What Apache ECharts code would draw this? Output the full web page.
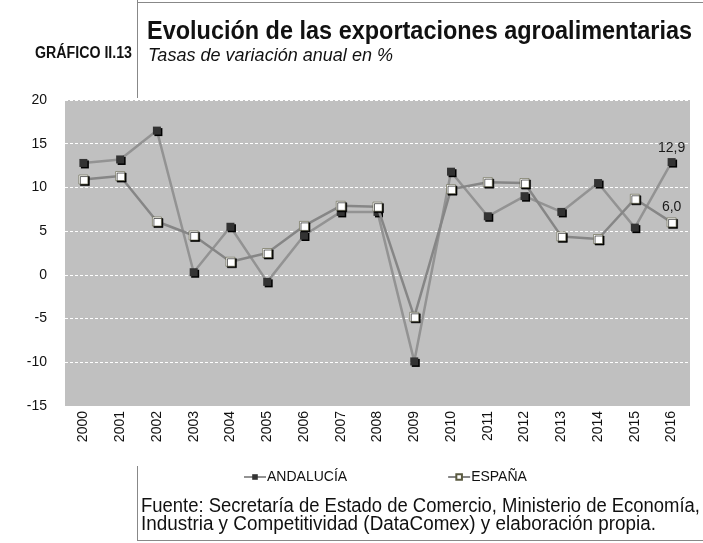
<!DOCTYPE html>
<html>
<head>
<meta charset="utf-8">
<script src="https://cdn.jsdelivr.net/npm/echarts@6/dist/echarts.min.js"></script>
<style>
    html, body { margin: 0; padding: 0; background: #ffffff; }
    #main { width: 703px; height: 543px; }
</style>
</head>
<body>
<div id="main"></div>
<script>
// datos
var years = ['2000', '2001', '2002', '2003', '2004', '2005', '2006', '2007', '2008',
    '2009', '2010', '2011', '2012', '2013', '2014', '2015', '2016'];
var andalucia = [12.8, 13.2, 16.5, 0.3, 5.5, -0.8, 4.5, 7.2, 7.2, -9.9, 11.8, 6.7, 9.0, 7.2, 10.5, 5.4, 12.9];
var espana = [10.9, 11.3, 6.1, 4.5, 1.5, 2.5, 5.6, 7.9, 7.8, -4.8, 9.8, 10.6, 10.5, 4.4, 4.1, 8.7, 6.0];
var yTicks = [-15, -10, -5, 0, 5, 10, 15, 20];

var arial = 'Arial, "Liberation Sans", sans-serif';

// no hay Arial Narrow: se estrecha la fuente normal hasta el ancho que ocupa
var ctx = document.createElement('canvas').getContext('2d');
function squeeze(text, font, width) {
    ctx.font = font;
    return width / ctx.measureText(text).width;
}
function narrowText(text, font, x, y, width) {
    var s = squeeze(text, font, width);
    return {
        type: 'text', x: x, y: y, scaleX: s,
        style: { text: text, font: font, fill: '#111', textVerticalAlign: 'bottom' }
    };
}

// solo se etiqueta el ultimo punto
function lastLabel(arr) {
    return arr.map(function(v, i) {
        if (i !== arr.length - 1) return v;
        return {
            value: v,
            label: {
                show: true,
                position: 'top',
                distance: 3,
                fontFamily: arial,
                fontSize: 14,
                color: '#1a1a1a',
                formatter: function(p) {
                    return p.value.toFixed(1).replace('.', ',');
                }
            }
        };
    });
}

var titleFont = 'bold 25px ' + arial;
var subFont = 'italic 19px ' + arial;
var tagFont = 'bold 16px ' + arial;
var srcFont = '20px ' + arial;
var src1 = 'Fuente: Secretaría de Estado de Comercio, Ministerio de Economía,';
var src2 = 'Industria y Competitividad (DataComex) y elaboración propia.';

var chart = echarts.init(document.getElementById('main'));
chart.setOption({
    animation: false,
    backgroundColor: '#ffffff',
    grid: {
        left: 65,
        right: 13,
        top: 100,
        bottom: 137,
        show: true,
        backgroundColor: '#c0c0c0',
        borderWidth: 0
    },
    xAxis: {
        type: 'category',
        data: years,
        boundaryGap: true,
        axisLine: { show: false },
        axisTick: { show: false },
        axisLabel: {
            rotate: 90,
            margin: 5,
            fontFamily: arial,
            fontSize: 14,
            color: '#111'
        }
    },
    yAxis: {
        type: 'value',
        min: yTicks[0],
        max: yTicks[yTicks.length - 1],
        interval: 5,
        axisLine: { show: false },
        axisTick: { show: false },
        axisLabel: {
            margin: 18,
            fontFamily: arial,
            fontSize: 14,
            color: '#111'
        },
        splitLine: {
            lineStyle: { color: '#ffffff', type: [3, 2], width: 1 }
        }
    },
    legend: {
        left: 238,
        top: 465,
        itemGap: 100,
        itemWidth: 22,
        itemHeight: 7,
        textStyle: { fontFamily: arial, fontSize: 14, color: '#111', padding: [0, 0, 0, -4] },
        data: ['ANDALUCÍA', 'ESPAÑA']
    },
    series: [
        {
            name: 'ANDALUCÍA',
            type: 'line',
            data: lastLabel(andalucia),
            symbol: 'rect',
            symbolSize: 8,
            lineStyle: { color: '#939393', width: 2.5 },
            itemStyle: {
                color: '#333333',
                borderWidth: 0,
                shadowColor: '#000000',
                shadowOffsetX: 1.5,
                shadowOffsetY: 1.5,
                shadowBlur: 0
            },
            z: 3
        },
        {
            name: 'ESPAÑA',
            type: 'line',
            data: lastLabel(espana),
            symbol: 'rect',
            symbolSize: 9,
            lineStyle: { color: '#868686', width: 2.5 },
            itemStyle: {
                color: '#ffffff',
                borderColor: '#5a5a40',
                borderWidth: 0.6,
                shadowColor: '#000000',
                shadowOffsetX: 1.5,
                shadowOffsetY: 1.5,
                shadowBlur: 0
            },
            z: 4
        }
    ],
    graphic: [
        { type: 'line', shape: { x1: 137.5, y1: 0, x2: 137.5, y2: 98 }, style: { stroke: '#888', lineWidth: 1 } },
        { type: 'line', shape: { x1: 137, y1: 2.5, x2: 703, y2: 2.5 }, style: { stroke: '#888', lineWidth: 1 } },
        { type: 'line', shape: { x1: 137.5, y1: 466, x2: 137.5, y2: 540.5 }, style: { stroke: '#888', lineWidth: 1 } },
        { type: 'line', shape: { x1: 137, y1: 540.5, x2: 703, y2: 540.5 }, style: { stroke: '#888', lineWidth: 1 } },
        narrowText('GRÁFICO II.13', tagFont, 35, 62, 97),
        narrowText('Evolución de las exportaciones agroalimentarias', titleFont, 147, 45, 545),
        narrowText('Tasas de variación anual en %', subFont, 148, 65, 245),
        narrowText(src1, srcFont, 141, 516, 559),
        narrowText(src2, srcFont, 141, 534, 515)
    ]
});
</script>
</body>
</html>
